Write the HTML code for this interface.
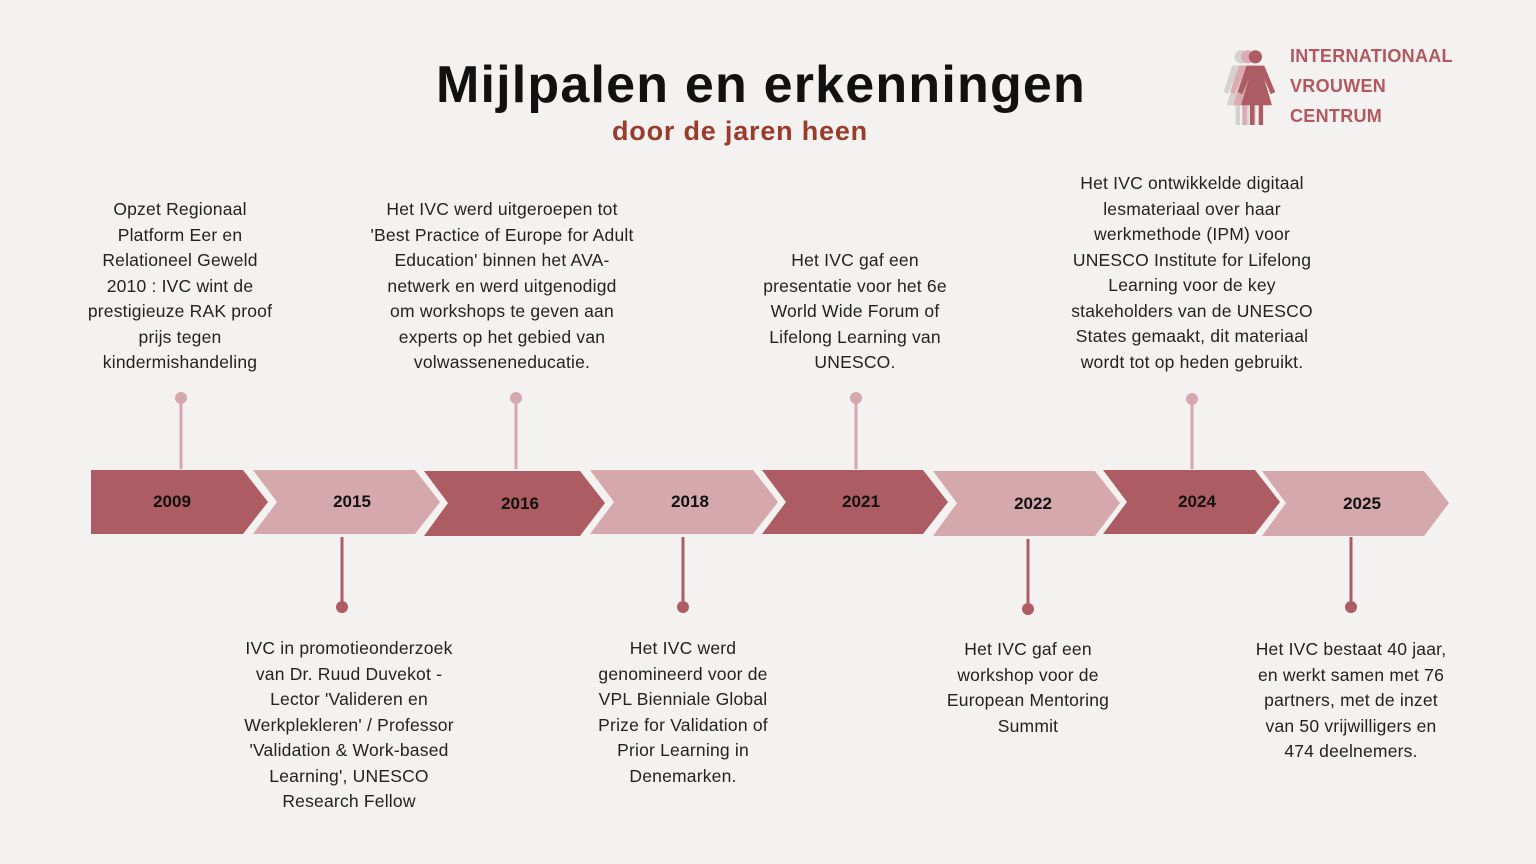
<!DOCTYPE html>
<html><head><meta charset="utf-8"><style>
body{margin:0;width:1536px;height:864px;background:#f4f2f0;position:relative;overflow:hidden;font-family:"Liberation Sans",sans-serif;color:#222}
.t{position:absolute;width:320px;text-align:center;font-size:17.5px;line-height:25.5px;letter-spacing:0.2px}
h1{position:absolute;margin:0;left:0;width:1522px;text-align:center;top:55px;font-size:52px;font-weight:bold;color:#111;letter-spacing:1.2px}
.sub{position:absolute;left:0;width:1480px;text-align:center;top:116px;font-size:27px;font-weight:bold;color:#9a3c2c;letter-spacing:0.8px}
.logo{position:absolute;left:1290px;font-weight:bold;font-size:18px;letter-spacing:0.3px;color:#b25860}
</style></head><body>
<h1>Mijlpalen en erkenningen</h1>
<div class="sub">door de jaren heen</div>
<div class="logo" style="top:46px">INTERNATIONAAL</div>
<div class="logo" style="top:76px">VROUWEN</div>
<div class="logo" style="top:106px">CENTRUM</div>
<svg width="1536" height="864" style="position:absolute;left:0;top:0">
<g transform="translate(1218,48) scale(1.1)">
 <g fill="#d5d3d2"><circle cx="21" cy="8" r="6"/><path d="M13 16h16l10 24-4 2-6-14 7 24h-8v18h-4v-18h-4v18h-4v-18h-8l7-24-6 14-4-2z"/></g>
 <g fill="#dcaab0" transform="translate(6,0)"><circle cx="21" cy="8" r="6"/><path d="M13 16h16l10 24-4 2-6-14 7 24h-8v18h-4v-18h-4v18h-4v-18h-8l7-24-6 14-4-2z"/></g>
 <g fill="#ad5c63" transform="translate(13,0)"><circle cx="21" cy="8" r="6"/><path d="M13 16h16l10 24-4 2-6-14 7 24h-8v18h-4v-18h-4v18h-4v-18h-8l7-24-6 14-4-2z"/></g>
</g>
<g>
 <polygon points="91,470 243,470 268,502 243,534 91,534" fill="#ad5c63"/>
 <polygon points="253,470 415,470 440,502 415,534 253,534 277,502" fill="#d4a8ad"/>
 <polygon points="424,471 580,471 605,503 580,536 424,536 448,503" fill="#ad5c63"/>
 <polygon points="590,470 753,470 778,502 753,534 590,534 614,502" fill="#d4a8ad"/>
 <polygon points="762,470 923,470 948,502 923,534 762,534 786,502" fill="#ad5c63"/>
 <polygon points="933,471 1095,471 1120,503 1095,536 933,536 957,503" fill="#d4a8ad"/>
 <polygon points="1103,470 1255,470 1280,502 1255,534 1103,534 1127,502" fill="#ad5c63"/>
 <polygon points="1262,471 1424,471 1449,503 1424,536 1262,536 1286,503" fill="#d4a8ad"/>
</g>
<g font-family="Liberation Sans" font-weight="bold" font-size="17" text-anchor="middle" fill="#111">
 <text x="172" y="507">2009</text><text x="352" y="507">2015</text><text x="520" y="509">2016</text><text x="690" y="507">2018</text>
 <text x="861" y="507">2021</text><text x="1033" y="509">2022</text><text x="1197" y="507">2024</text><text x="1362" y="509">2025</text>
</g>
<g stroke="#d4a8ad" stroke-width="3" fill="#d4a8ad">
 <line x1="181" y1="398" x2="181" y2="469"/><circle cx="181" cy="398" r="6" stroke="none"/>
 <line x1="516" y1="398" x2="516" y2="469"/><circle cx="516" cy="398" r="6" stroke="none"/>
 <line x1="856" y1="398" x2="856" y2="469"/><circle cx="856" cy="398" r="6" stroke="none"/>
 <line x1="1192" y1="399" x2="1192" y2="469"/><circle cx="1192" cy="399" r="6" stroke="none"/>
</g>
<g stroke="#ad5c63" stroke-width="3" fill="#ad5c63">
 <line x1="342" y1="537" x2="342" y2="607"/><circle cx="342" cy="607" r="6" stroke="none"/>
 <line x1="683" y1="537" x2="683" y2="607"/><circle cx="683" cy="607" r="6" stroke="none"/>
 <line x1="1028" y1="539" x2="1028" y2="609"/><circle cx="1028" cy="609" r="6" stroke="none"/>
 <line x1="1351" y1="537" x2="1351" y2="607"/><circle cx="1351" cy="607" r="6" stroke="none"/>
</g>
</svg>
<div class="t" style="left:20px;top:197px">Opzet Regionaal<br>Platform Eer en<br>Relationeel Geweld<br>2010 : IVC wint de<br>prestigieuze RAK proof<br>prijs tegen<br>kindermishandeling</div>
<div class="t" style="left:342px;top:197px">Het IVC werd uitgeroepen tot<br>'Best Practice of Europe for Adult<br>Education' binnen het AVA-<br>netwerk en werd uitgenodigd<br>om workshops te geven aan<br>experts op het gebied van<br>volwasseneneducatie.</div>
<div class="t" style="left:695px;top:248px">Het IVC gaf een<br>presentatie voor het 6e<br>World Wide Forum of<br>Lifelong Learning van<br>UNESCO.</div>
<div class="t" style="left:1032px;top:171px">Het IVC ontwikkelde digitaal<br>lesmateriaal over haar<br>werkmethode (IPM) voor<br>UNESCO Institute for Lifelong<br>Learning voor de key<br>stakeholders van de UNESCO<br>States gemaakt, dit materiaal<br>wordt tot op heden gebruikt.</div>
<div class="t" style="left:189px;top:636px">IVC in promotieonderzoek<br>van Dr. Ruud Duvekot -<br>Lector 'Valideren en<br>Werkplekleren' / Professor<br>'Validation &amp; Work-based<br>Learning', UNESCO<br>Research Fellow</div>
<div class="t" style="left:523px;top:636px">Het IVC werd<br>genomineerd voor de<br>VPL Bienniale Global<br>Prize for Validation of<br>Prior Learning in<br>Denemarken.</div>
<div class="t" style="left:868px;top:637px">Het IVC gaf een<br>workshop voor de<br>European Mentoring<br>Summit</div>
<div class="t" style="left:1191px;top:637px">Het IVC bestaat 40 jaar,<br>en werkt samen met 76<br>partners, met de inzet<br>van 50 vrijwilligers en<br>474 deelnemers.</div>
</body></html>
